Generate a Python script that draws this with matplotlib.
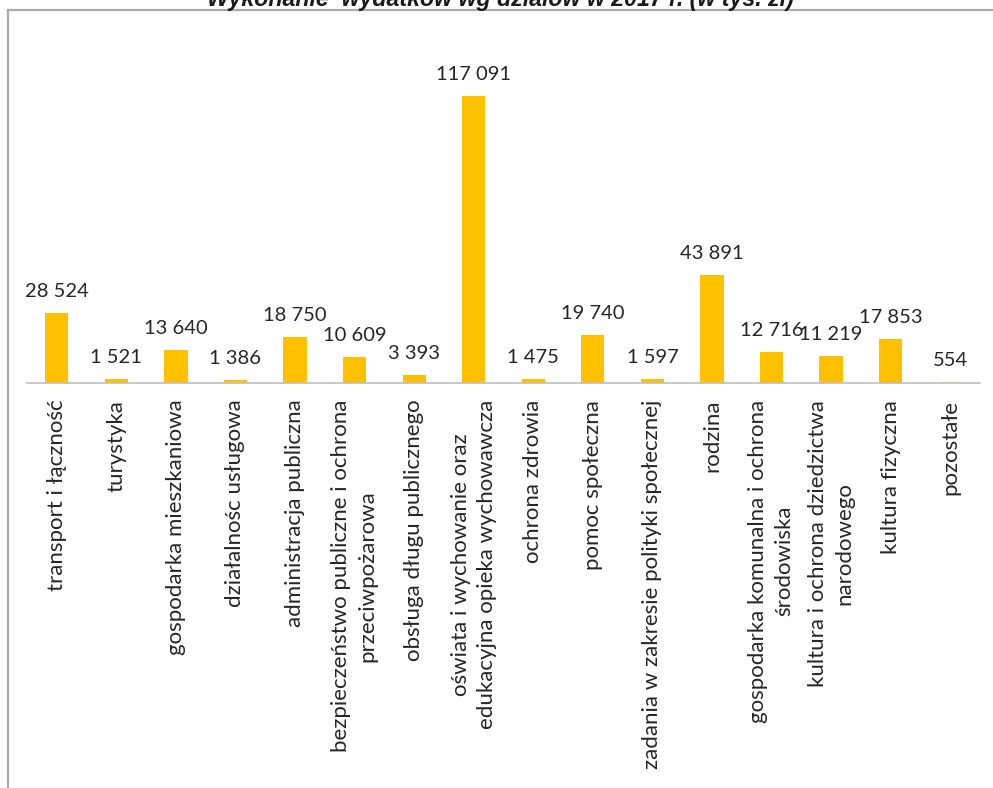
# Wykonanie wydatków wg działów w 2017 r.

import matplotlib.pyplot as plt
from matplotlib.lines import Line2D

categories = [
    "transport i łączność",
    "turystyka",
    "gospodarka mieszkaniowa",
    "działalnośc usługowa",
    "administracja publiczna",
    "bezpieczeństwo publiczne i ochrona\nprzeciwpożarowa",
    "obsługa długu publicznego",
    "oświata i wychowanie oraz\nedukacyjna opieka wychowawcza",
    "ochrona zdrowia",
    "pomoc społeczna",
    "zadania w zakresie polityki społecznej",
    "rodzina",
    "gospodarka komunalna i ochrona\nśrodowiska",
    "kultura i ochrona dziedzictwa\nnarodowego",
    "kultura fizyczna",
    "pozostałe",
]
values = [28524, 1521, 13640, 1386, 18750, 10609, 3393, 117091,
          1475, 19740, 1597, 43891, 12716, 11219, 17853, 554]

title = "Wykonanie  wydatków wg działów w 2017 r. (w tys. zł)"

W, H = 993, 788
fig = plt.figure(figsize=(W / 100, H / 100), dpi=100)

# axes placed in pixel terms
ymax = 132000
px_per_unit = 287 / 117091
ax_h = ymax * px_per_unit
base_y = 383
ax = fig.add_axes([27 / W, (H - base_y) / H, 953 / W, ax_h / H])

x = list(range(len(values)))
ax.bar(x, values, width=0.39, color="#FFC000", zorder=2)

for xi, v in zip(x, values):
    label = f"{v:,}".replace(",", " ")
    ax.annotate(label, (xi, v), xytext=(0, 11.5), textcoords="offset points",
                ha="center", va="baseline", fontsize=14.5,
                family="Lato", color="#262626")

ax.set_xlim(-0.5, len(values) - 0.5)
ax.set_ylim(0, ymax)
ax.set_xticks(x)
ax.set_xticklabels(categories, rotation=90, ha="center", va="top",
                   multialignment="center", fontsize=16, family="Lato",
                   color="#262626", linespacing=1.4)
ax.tick_params(axis="x", length=0, pad=12)
ax.set_yticks([])
for side in ["top", "right", "left"]:
    ax.spines[side].set_visible(False)
ax.spines["bottom"].set_color("#bfbfbf")
ax.spines["bottom"].set_linewidth(1.2)

# outer frame (only top and left visible in the crop)
fig.add_artist(Line2D([7.5 / W, 1], [1 - 9.5 / H, 1 - 9.5 / H],
                      color="#ababab", lw=1.6))
fig.add_artist(Line2D([7.5 / W, 7.5 / W], [0, 1 - 9.5 / H],
                      color="#ababab", lw=1.6))

# title, cut off at the top edge as in the source image
fig.text(0.504, 1 - 6 / H, title, ha="center", va="baseline",
         fontsize=16.7, fontweight="bold", fontstyle="italic",
         family="Liberation Sans", color="#1a1a1a")

fig.savefig("out.png", dpi=100, facecolor="white")
